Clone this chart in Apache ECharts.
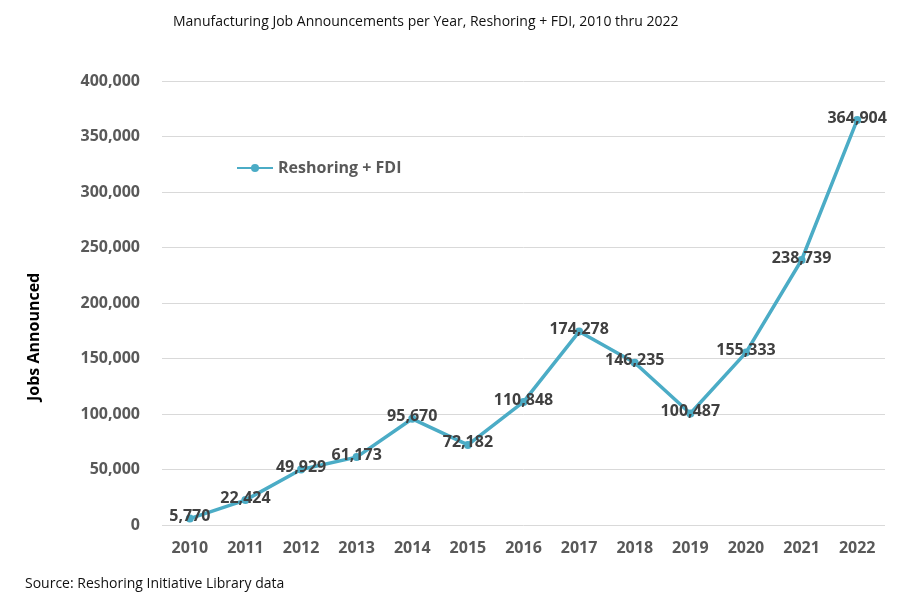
<!DOCTYPE html>
<html>
<head>
<meta charset="utf-8">
<script src="https://cdn.jsdelivr.net/npm/echarts@6/dist/echarts.min.js"></script>
<style>
  html, body { margin: 0; padding: 0; background: #fff; }
  #main { width: 900px; height: 600px; }
</style>
</head>
<body>
<div id="main"></div>
<script>
// years on the x axis
var years = ['2010', '2011', '2012', '2013', '2014', '2015', '2016',
             '2017', '2018', '2019', '2020', '2021', '2022'];
// jobs announced, reshoring + FDI
var jobs = [5770, 22424, 49929, 61173, 95670, 72182, 110848,
            174278, 146235, 100487, 155333, 238739, 364904];

var lineColor = '#4BACC6';
var font = '"Open Sans", "Noto Sans", sans-serif';

var myChart = echarts.init(document.getElementById('main'));

var option = {
  animation: false,
  backgroundColor: '#ffffff',
  title: {
    text: 'Manufacturing Job Announcements per Year, Reshoring + FDI, 2010 thru 2022',
    left: 168,
    top: 10,
    textStyle: { fontFamily: font, fontSize: 14, fontWeight: 'normal', color: '#111' }
  },
  legend: {
    left: 231,
    top: 155,
    itemWidth: 36,
    itemHeight: 10,
    itemGap: 4,
    data: ['Reshoring + FDI'],
    textStyle: { fontFamily: font, fontSize: 16, fontWeight: 'bold', color: '#595959' }
  },
  grid: { left: 162, right: 15, top: 81, bottom: 75 },
  xAxis: {
    type: 'category',
    data: years,
    boundaryGap: true,
    axisLine: { show: false },
    axisTick: { show: false },
    axisLabel: { margin: 15, fontFamily: font, fontSize: 16, fontWeight: 'bold', color: '#595959' }
  },
  yAxis: {
    type: 'value',
    min: 0,
    max: 400000,
    interval: 50000,
    axisLine: { show: false },
    axisTick: { show: false },
    splitLine: { lineStyle: { color: '#d9d9d9', width: 1 } },
    axisLabel: {
      margin: 22,
      fontFamily: font, fontSize: 16, fontWeight: 'bold', color: '#595959',
      formatter: function (v) { return v.toLocaleString('en-US'); }
    }
  },
  graphic: [
    {
      type: 'text',
      x: 26,
      y: 401,
      rotation: Math.PI / 2,
      style: {
        text: 'Jobs Announced',
        font: 'bold 16px ' + font,
        fill: '#000'
      }
    },
    {
      type: 'text',
      left: 25,
      top: 577,
      style: {
        text: 'Source: Reshoring Initiative Library data',
        font: '14px ' + font,
        fill: '#111'
      }
    }
  ],
  series: [
    {
      name: 'Reshoring + FDI',
      type: 'line',
      data: jobs,
      symbol: 'circle',
      symbolSize: 8,
      itemStyle: { color: lineColor },
      lineStyle: { color: lineColor, width: 3.5 },
      label: {
        show: true,
        position: 'inside',
        offset: [0, -2],
        fontFamily: font,
        fontSize: 16,
        fontWeight: 'bold',
        color: '#404040',
        formatter: function (p) { return p.value.toLocaleString('en-US'); }
      }
    }
  ]
};

myChart.setOption(option);
</script>
</body>
</html>
